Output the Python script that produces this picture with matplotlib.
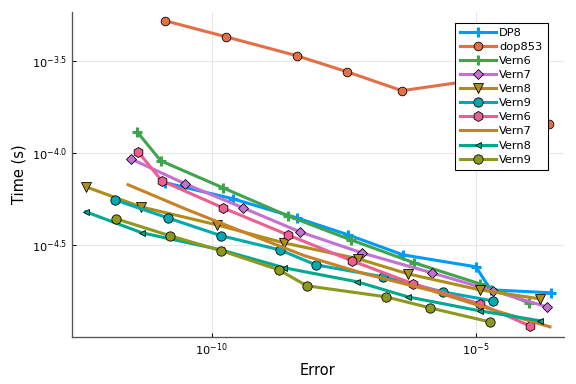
import numpy as np
import matplotlib
matplotlib.use("Agg")
import matplotlib.pyplot as plt

# log10 of error / time values
dp8_lx = [-10.88, -9.60, -8.39, -7.42, -6.38, -5.00, -4.72, -3.58]
dp8_ly = [-4.161, -4.248, -4.352, -4.444, -4.553, -4.618, -4.743, -4.759]

dop853_lx = [-10.88, -9.73, -8.39, -7.44, -6.40, -4.55, -3.62]
dop853_ly = [-3.281, -3.368, -3.471, -3.558, -3.661, -3.585, -3.841]

vern6a_lx = [-11.41, -10.96, -9.79, -8.56, -7.37, -6.17, -4.93, -4.00]
vern6a_ly = [-3.884, -4.042, -4.188, -4.341, -4.471, -4.596, -4.710, -4.813]

vern7a_lx = [-11.53, -10.50, -9.41, -8.33, -7.16, -5.83, -4.68, -3.66]
vern7a_ly = [-4.031, -4.167, -4.297, -4.428, -4.542, -4.651, -4.748, -4.835]

vern8a_lx = [-12.38, -11.34, -9.90, -8.63, -7.23, -6.29, -4.93, -3.79]
vern8a_ly = [-4.183, -4.292, -4.390, -4.488, -4.574, -4.656, -4.743, -4.792]

vern9a_lx = [-11.83, -10.83, -9.82, -8.71, -8.03, -6.76, -5.63, -4.68]
vern9a_ly = [-4.254, -4.352, -4.449, -4.526, -4.607, -4.672, -4.754, -4.803]

vern6b_lx = [-11.39, -10.94, -9.79, -8.56, -7.35, -6.19, -4.93, -3.98]
vern6b_ly = [-3.993, -4.151, -4.297, -4.444, -4.585, -4.710, -4.819, -4.939]

vern7b_lx = [-11.58, -10.50, -9.46, -8.24, -7.10, -5.83, -4.68, -3.60]
vern7b_ly = [-4.172, -4.303, -4.422, -4.558, -4.656, -4.748, -4.852, -4.944]

vern8b_lx = [-12.38, -11.32, -9.82, -8.63, -7.25, -6.29, -4.93, -3.79]
vern8b_ly = [-4.319, -4.433, -4.526, -4.623, -4.699, -4.781, -4.857, -4.911]

vern9b_lx = [-11.81, -10.79, -9.82, -8.73, -8.20, -6.70, -5.87, -4.74]
vern9b_ly = [-4.357, -4.449, -4.530, -4.634, -4.721, -4.781, -4.841, -4.917]

labels = ["DP8", "dop853", "Vern6", "Vern7", "Vern8", "Vern9",
          "Vern6", "Vern7", "Vern8", "Vern9"]
colors = ["#009AFA", "#E36F47", "#3EA44E", "#C371D2", "#AC8E18",
          "#00AAAE", "#ED5E93", "#C68225", "#00A98D", "#8E971E"]
markers = ["+", "o", "+", "D", "v", "o", "h", None, "<", "o"]
msizes = [8, 6.5, 8, 5.5, 7, 7, 7.5, 0, 5, 7]

series = [(dp8_lx, dp8_ly), (dop853_lx, dop853_ly), (vern6a_lx, vern6a_ly),
          (vern7a_lx, vern7a_ly), (vern8a_lx, vern8a_ly), (vern9a_lx, vern9a_ly),
          (vern6b_lx, vern6b_ly), (vern7b_lx, vern7b_ly), (vern8b_lx, vern8b_ly),
          (vern9b_lx, vern9b_ly)]

fig = plt.figure(figsize=(6, 4), dpi=96)
ax = fig.add_axes([0.125, 0.123, 0.854, 0.8465])

for (lx, ly), lab, c, m, ms in zip(series, labels, colors, markers, msizes):
    x = 10.0 ** np.array(lx)
    y = 10.0 ** np.array(ly)
    if m == "+":
        ax.plot(x, y, color=c, lw=2.3, marker=m, ms=ms, mew=2.3, mec=c, label=lab)
    elif m is None:
        ax.plot(x, y, color=c, lw=2.3, label=lab)
    else:
        ax.plot(x, y, color=c, lw=2.3, marker=m, ms=ms, mec="black", mew=0.6,
                mfc=c, label=lab)

ax.set_xscale("log")
ax.set_yscale("log")
ax.set_xlim(10 ** -12.64, 10 ** -3.336)
ax.set_ylim(10 ** -4.998, 10 ** -3.232)

ax.set_xticks([1e-10, 1e-5])
ax.set_xticklabels([r"$10^{-10}$", r"$10^{-5}$"])
ax.set_yticks([10 ** -3.5, 10 ** -4.0, 10 ** -4.5])
ax.set_yticklabels([r"$10^{-3.5}$", r"$10^{-4.0}$", r"$10^{-4.5}$"])
ax.xaxis.set_minor_locator(matplotlib.ticker.NullLocator())
ax.yaxis.set_minor_locator(matplotlib.ticker.NullLocator())
ax.tick_params(direction="in", length=3, width=0.8, labelsize=8.5, colors="black")

ax.grid(True, color="#e6e6e6", lw=0.8)
ax.set_axisbelow(True)
for s in ["top", "right"]:
    ax.spines[s].set_visible(False)
for s in ["left", "bottom"]:
    ax.spines[s].set_color("#555555")
    ax.spines[s].set_linewidth(1.0)

ax.set_xlabel("Error", fontsize=11)
ax.set_ylabel("Time (s)", fontsize=11)

leg = ax.legend(loc="upper right", bbox_to_anchor=(0.967, 0.966), borderaxespad=0,
                fontsize=8.5, frameon=True, fancybox=False, edgecolor="black",
                framealpha=1, handlelength=3.2, labelspacing=0.36,
                borderpad=0.45, handletextpad=0.3)
leg.get_frame().set_linewidth(0.8)

fig.savefig("out.png", dpi=96)
